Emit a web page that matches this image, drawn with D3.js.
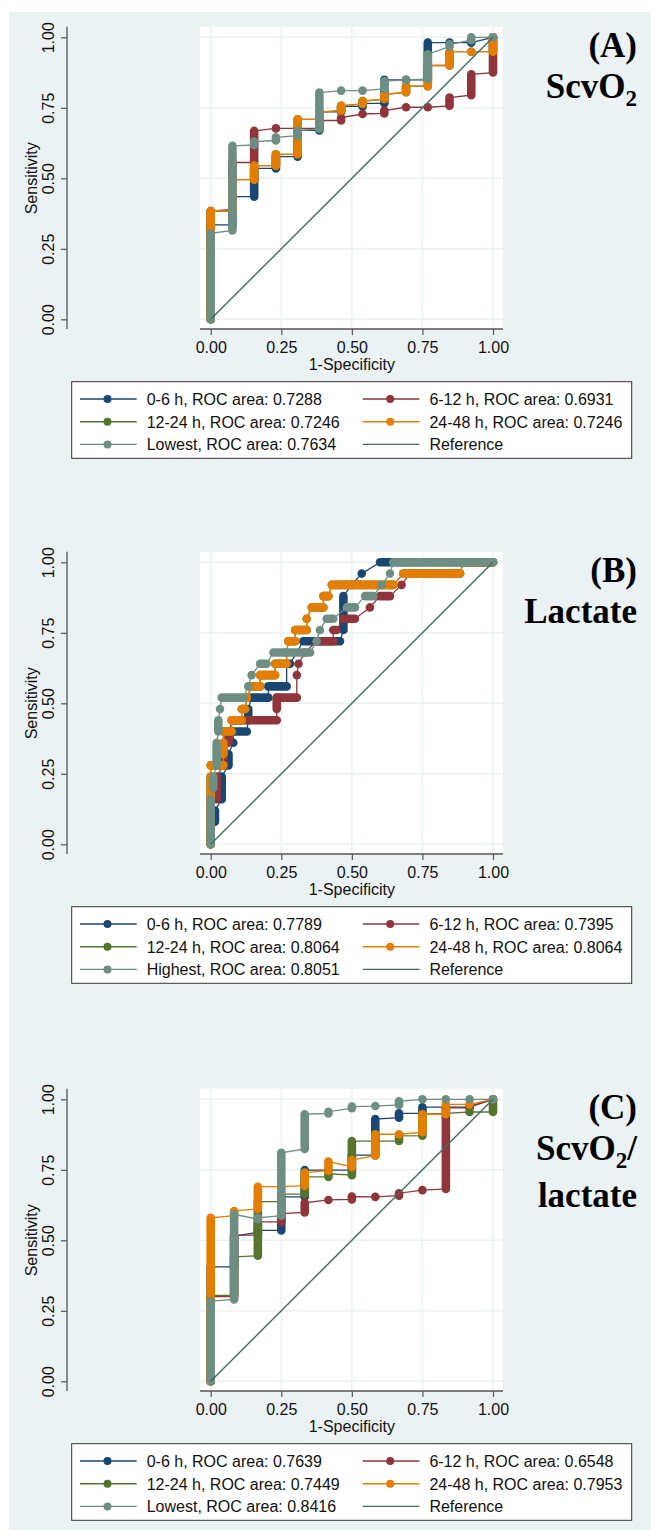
<!DOCTYPE html>
<html>
<head>
<meta charset="utf-8">
<script src="https://cdn.jsdelivr.net/npm/d3@7"></script>
<style>
  body { margin: 0; background: #fff; }
  text { font-family: "Liberation Sans", Arial, sans-serif; }
  text.ttl { font-family: "Liberation Serif", "Times New Roman", serif; font-weight: bold; }
</style>
</head>
<body>
<div id="chart"></div>
<script>
// ---------- data ----------
const xTicks = [0, 0.25, 0.5, 0.75, 1],
      yTicks = [0, 0.25, 0.5, 0.75, 1];
const groups = ["0-6 h", "6-12 h", "12-24 h", "24-48 h"];

const rocA = [0.7288, 0.6931, 0.7246, 0.7246, 0.7634],
      rocB = [0.7789, 0.7395, 0.8064, 0.8064, 0.8051],
      rocC = [0.7639, 0.6548, 0.7449, 0.7953, 0.8416];
const extremeA = "Lowest", extremeB = "Highest", extremeC = "Lowest";

// runs of stacked points: [x, yFrom, yTo] (vertical) or [x1, y1, x2, y2]
// (A) ScvO2
const a06 = [[0,0,.335],[.077,.335,.435],[.154,.435,.535],[.231,.535,.577],[.308,.577,.67],[.385,.67,.736],
             [.462,.736,.755],[.538,.755,.766],[.615,.766,.849],[.692,.849,.849],[.769,.849,.981],
             [.846,.981,.981],[.923,.981,.981],[1,1,1]];
const a612 = [[0,0,.384],[.077,.39,.556],[.154,.556,.668],[.231,.677,.677],[.308,.677,.677],[.385,.677,.705],
              [.462,.705,.715],[.538,.728,.728],[.615,.73,.74],[.692,.752,.752],[.769,.752,.752],
              [.846,.757,.786],[.923,.795,.869],[1,.875,1]];
const a1224 = [[0,0,.384],[.077,.384,.495],[.154,.495,.545],[.231,.545,.585],[.308,.585,.709],[.385,.709,.735],
               [.462,.74,.757],[.538,.764,.774],[.615,.781,.798],[.692,.805,.827],[.769,.827,.9],
               [.846,.9,.949],[.923,.949,.949],[1,.949,1]];
const a2448 = [[0,0,.384],[.077,.384,.495],[.154,.495,.545],[.231,.545,.585],[.308,.585,.709],[.385,.709,.735],
               [.462,.74,.757],[.538,.764,.774],[.615,.781,.798],[.692,.805,.827],[.769,.827,.9],
               [.846,.9,.949],[.923,.949,.949],[1,.949,1]];
const aLow = [[0,0,.305],[.077,.315,.615],[.154,.618,.63],[.231,.634,.645],[.308,.651,.669],[.385,.675,.804],
              [.462,.811,.811],[.538,.811,.811],[.615,.817,.845],[.692,.849,.849],[.769,.852,.94],
              [.846,.967,.975],[.923,.99,1],[1,1,1]];

// (B) Lactate
const b06 = [[0,0,0,.04],[.015,.08,.015,.12],[.039,.16,.039,.24],[.063,.28,.063,.32],[.08,.36,.08,.36],
             [.08,.4,.128,.4],[.133,.44,.133,.48],[.145,.52,.204,.52],[.204,.56,.269,.56],[.269,.64,.281,.64],
             [.328,.72,.458,.72],[.47,.76,.47,.88],[.499,.92,.499,.92],[.535,.96,.535,.96],[.6,1,1,1]];
const b612 = [[0,0,0,.12],[.021,.16,.021,.24],[.045,.28,.045,.32],[.063,.36,.063,.4],[.08,.44,.234,.44],
              [.234,.48,.234,.52],[.234,.52,.305,.52],[.305,.6,.305,.6],[.311,.64,.311,.64],[.334,.68,.334,.68],
              [.375,.72,.434,.72],[.434,.76,.446,.76],[.47,.8,.511,.8],[.564,.84,.564,.84],[.6,.88,.635,.88],
              [.676,.92,.676,.92],[.706,.96,.883,.96],[.895,1,1,1]];
const b1224 = [[0,0,0,.24],[0,.28,.045,.28],[.045,.32,.045,.36],[.045,.4,.074,.4],[.074,.44,.11,.44],
               [.11,.48,.122,.48],[.128,.52,.128,.52],[.145,.56,.175,.56],[.175,.6,.228,.6],[.228,.64,.269,.64],
               [.269,.68,.269,.68],[.275,.72,.299,.72],[.299,.76,.34,.76],[.34,.8,.34,.8],[.358,.84,.399,.84],
               [.399,.88,.417,.88],[.429,.92,.647,.92],[.682,.96,.883,.96],[.895,1,1,1]];
const b2448 = [[0,0,0,.24],[0,.28,.045,.28],[.045,.32,.045,.36],[.045,.4,.074,.4],[.074,.44,.11,.44],
               [.11,.48,.122,.48],[.128,.52,.128,.52],[.145,.56,.175,.56],[.175,.6,.228,.6],[.228,.64,.269,.64],
               [.269,.68,.269,.68],[.275,.72,.299,.72],[.299,.76,.34,.76],[.34,.8,.34,.8],[.358,.84,.399,.84],
               [.399,.88,.417,.88],[.429,.92,.647,.92],[.682,.96,.883,.96],[.895,1,1,1]];
const bHigh = [[0,0,0,.16],[.009,.2,.009,.24],[.021,.28,.021,.36],[.027,.4,.027,.44],[.033,.48,.033,.48],
               [.039,.52,.116,.52],[.133,.56,.133,.56],[.145,.6,.145,.6],[.175,.64,.198,.64],[.222,.68,.352,.68],
               [.375,.72,.375,.72],[.387,.76,.387,.76],[.411,.8,.434,.8],[.482,.84,.511,.84],[.547,.88,.576,.88],
               [.606,.92,.606,.92],[.635,.96,.635,.96],[.647,1,1,1]];

// (C) ScvO2/lactate
const c06 = [[0,0,.406],[.083,.406,.515],[.167,.528,.535],[.25,.535,.654],[.333,.654,.749],[.417,.749,.749],
             [.5,.749,.802],[.583,.802,.93],[.667,.935,.95],[.75,.95,.972],[.833,.972,.972],[.917,.972,.972],[1,1,1]];
const c612 = [[0,0,.3],[.083,.3,.518],[.167,.518,.565],[.25,.565,.595],[.333,.599,.633],[.417,.643,.643],
              [.5,.645,.655],[.583,.654,.654],[.667,.658,.667],[.75,.678,.678],[.833,.682,.97],[.917,.97,.975],[1,1,1]];
const c1224 = [[0,0,.305],[.083,.305,.441],[.167,.445,.637],[.25,.637,.664],[.333,.664,.725],[.417,.725,.736],
               [.5,.731,.852],[.583,.852,.852],[.667,.852,.87],[.75,.871,.947],[.833,.95,.95],[.917,.955,.955],[1,.955,1]];
const c2448 = [[0,0,.58],[.083,.587,.604],[.167,.611,.69],[.25,.69,.69],[.333,.694,.74],[.417,.747,.779],
               [.5,.76,.785],[.583,.8,.876],[.667,.876,.876],[.75,.883,.947],[.833,.947,.982],[.917,.982,.982],[1,1,1]];
const cLow = [[0,0,.284],[.083,.29,.592],[.167,.575,.58],[.25,.587,.81],[.333,.824,.947],[.417,.95,.956],
              [.5,.968,.974],[.583,.976,.976],[.667,.98,.993],[.75,1,1],[.833,1,1],[.917,1,1],[1,1,1]];

// ---------- style / layout ----------
const w = 651, h = 1538;
const colors = ["#1a476f", "#90353b", "#55752f", "#e37e00", "#6e8e84"],
      refColor = "#3d6e61",
      bg = "#eaf2f3";
const x0 = 210.7, x1 = 493, plotL = 200, plotR = 503, yAxisX = 67, ph = 282;

const panels = [
  { top: 37.3,   bgTop: 12,   bgBot: 538,  series: [a06, a612, a1224, a2448, aLow], roc: rocA, extreme: extremeA,
    title: [["(A)"], ["ScvO", "2"]] },
  { top: 562.3,  bgTop: 538,  bgBot: 1075, series: [b06, b612, b1224, b2448, bHigh], roc: rocB, extreme: extremeB,
    title: [["(B)"], ["Lactate"]] },
  { top: 1099.3, bgTop: 1075, bgBot: 1530, series: [c06, c612, c1224, c2448, cLow], roc: rocC, extreme: extremeC,
    title: [["(C)"], ["ScvO", "2", "/"], ["lactate"]] }
];

let svg = d3.select("#chart")
            .append("svg")
            .attr("width", w)
            .attr("height", h);

let xScale = d3.scaleLinear().domain([0, 1]).range([x0, x1]);

panels.forEach((p) => {
  let yScale = d3.scaleLinear().domain([0, 1]).range([p.top + ph, p.top]);
  let plotT = p.top - 10.6, axisY = p.top + ph + 9.7;
  let g = svg.append("g");

  // background
  g.append("rect")
   .attr("x", 9).attr("y", p.bgTop)
   .attr("width", w - 9).attr("height", p.bgBot - p.bgTop)
   .attr("fill", bg);
  g.append("rect")
   .attr("x", plotL).attr("y", plotT)
   .attr("width", plotR - plotL).attr("height", axisY - plotT)
   .attr("fill", "#fff");

  // grid
  g.selectAll(".hg").data(yTicks).enter().append("line")
   .attr("x1", plotL).attr("x2", plotR)
   .attr("y1", (d) => yScale(d)).attr("y2", (d) => yScale(d))
   .attr("stroke", bg).attr("stroke-width", 1.5);
  g.selectAll(".vg").data(xTicks).enter().append("line")
   .attr("y1", plotT).attr("y2", axisY)
   .attr("x1", (d) => xScale(d)).attr("x2", (d) => xScale(d))
   .attr("stroke", bg).attr("stroke-width", 1.5);

  // x axis
  let xAxis = d3.axisBottom(xScale)
                .tickValues(xTicks)
                .tickFormat(d3.format(".2f"))
                .tickSize(6)
                .tickSizeOuter(0);
  let gx = g.append("g")
            .attr("transform", `translate(0, ${axisY})`)
            .call(xAxis);
  gx.select(".domain").remove();
  gx.selectAll("line").attr("stroke", "#555").attr("stroke-width", 1.2);
  gx.selectAll("text")
    .attr("y", 23.5).attr("dy", 0)
    .attr("font-size", 16).attr("fill", "#111");
  g.append("line")
   .attr("x1", plotL).attr("x2", plotR)
   .attr("y1", axisY).attr("y2", axisY)
   .attr("stroke", "#555").attr("stroke-width", 1.3);
  g.append("text")
   .attr("x", (x0 + x1) / 2).attr("y", p.top + ph + 50.5)
   .attr("text-anchor", "middle")
   .attr("font-size", 16).attr("fill", "#111")
   .text("1-Specificity");

  // y axis (sits far left of the plot, as in the original)
  let yAxis = d3.axisLeft(yScale)
                .tickValues(yTicks)
                .tickFormat(d3.format(".2f"))
                .tickSize(6)
                .tickSizeOuter(0);
  let gy = g.append("g")
            .attr("transform", `translate(${yAxisX}, 0)`)
            .call(yAxis);
  gy.select(".domain").remove();
  gy.selectAll("line").attr("stroke", "#555").attr("stroke-width", 1.2);
  gy.selectAll("text")
    .attr("x", 0).attr("y", -13.5).attr("dy", 0)
    .attr("transform", "rotate(-90)")
    .attr("text-anchor", "middle")
    .attr("font-size", 16).attr("fill", "#111");
  g.append("line")
   .attr("x1", yAxisX).attr("x2", yAxisX)
   .attr("y1", plotT).attr("y2", axisY)
   .attr("stroke", "#555").attr("stroke-width", 1.3);
  g.append("text")
   .attr("transform", `translate(36.5, ${p.top + ph / 2}) rotate(-90)`)
   .attr("text-anchor", "middle")
   .attr("font-size", 16).attr("fill", "#111")
   .text("Sensitivity");

  // curves
  let line = d3.line().x((d) => xScale(d[0])).y((d) => yScale(d[1]));
  p.series.forEach((runs, i) => {
    let segs = runs.map((r) => r.length === 3 ? [r[0], r[1], r[0], r[2]] : r);
    let pts = [];
    segs.forEach((s) => { pts.push([s[0], s[1]]); pts.push([s[2], s[3]]); });
    g.append("path")
     .attr("d", line(pts))
     .attr("fill", "none")
     .attr("stroke", colors[i])
     .attr("stroke-width", 1.3);
    g.selectAll(".pill" + i).data(segs.filter((s) => s[0] !== s[2] || s[1] !== s[3])).enter()
     .append("line")
     .attr("x1", (s) => xScale(s[0])).attr("y1", (s) => yScale(s[1]))
     .attr("x2", (s) => xScale(s[2])).attr("y2", (s) => yScale(s[3]))
     .attr("stroke", colors[i])
     .attr("stroke-width", 8.6)
     .attr("stroke-linecap", "round");
    g.selectAll(".dot" + i).data(segs.filter((s) => s[0] === s[2] && s[1] === s[3])).enter()
     .append("circle")
     .attr("cx", (s) => xScale(s[0])).attr("cy", (s) => yScale(s[1]))
     .attr("r", 4.3)
     .attr("fill", colors[i]);
  });

  // reference diagonal
  g.append("path")
   .attr("d", line([[0, 0], [1, 1]]))
   .attr("stroke", refColor)
   .attr("stroke-width", 1.4);

  // title
  p.title.forEach((parts, k) => {
    let t = g.append("text")
             .attr("class", "ttl")
             .attr("x", 637)
             .attr("y", p.top + [19.4, 61, 107.4][k])
             .attr("text-anchor", "end")
             .attr("font-size", 35)
             .attr("fill", "#000");
    t.append("tspan").text(parts[0]);
    if (parts.length > 1) {
      t.append("tspan").attr("font-size", 23).attr("dy", 8).text(parts[1]);
    }
    if (parts.length > 2) {
      t.append("tspan").attr("dy", -8).text(parts[2]);
    }
  });

  // legend
  let lt = p.top + 344.4;
  g.append("rect")
   .attr("x", 71.7).attr("y", lt)
   .attr("width", 560).attr("height", 76.6)
   .attr("fill", "#fff")
   .attr("stroke", "#333").attr("stroke-width", 1);
  let labels = groups.map((d, i) => `${d}, ROC area: ${p.roc[i].toFixed(4)}`);
  labels.push(`${p.extreme}, ROC area: ${p.roc[4].toFixed(4)}`);
  labels.push("Reference");
  labels.forEach((lab, i) => {
    let col = i % 2, row = Math.floor(i / 2);
    let lx = col === 0 ? 80 : 362.7,
        ly = lt + 17.3 + row * 22.7,
        c = i < 5 ? colors[i] : refColor;
    g.append("line")
     .attr("x1", lx).attr("x2", lx + 56.7)
     .attr("y1", ly).attr("y2", ly)
     .attr("stroke", c).attr("stroke-width", 1.4);
    if (i < 5) {
      g.append("circle")
       .attr("cx", lx + 27.5).attr("cy", ly)
       .attr("r", 4).attr("fill", c);
    }
    g.append("text")
     .attr("x", lx + 66.7).attr("y", ly + 6)
     .attr("font-size", 16).attr("fill", "#111")
     .text(lab);
  });
});
</script>
</body>
</html>
